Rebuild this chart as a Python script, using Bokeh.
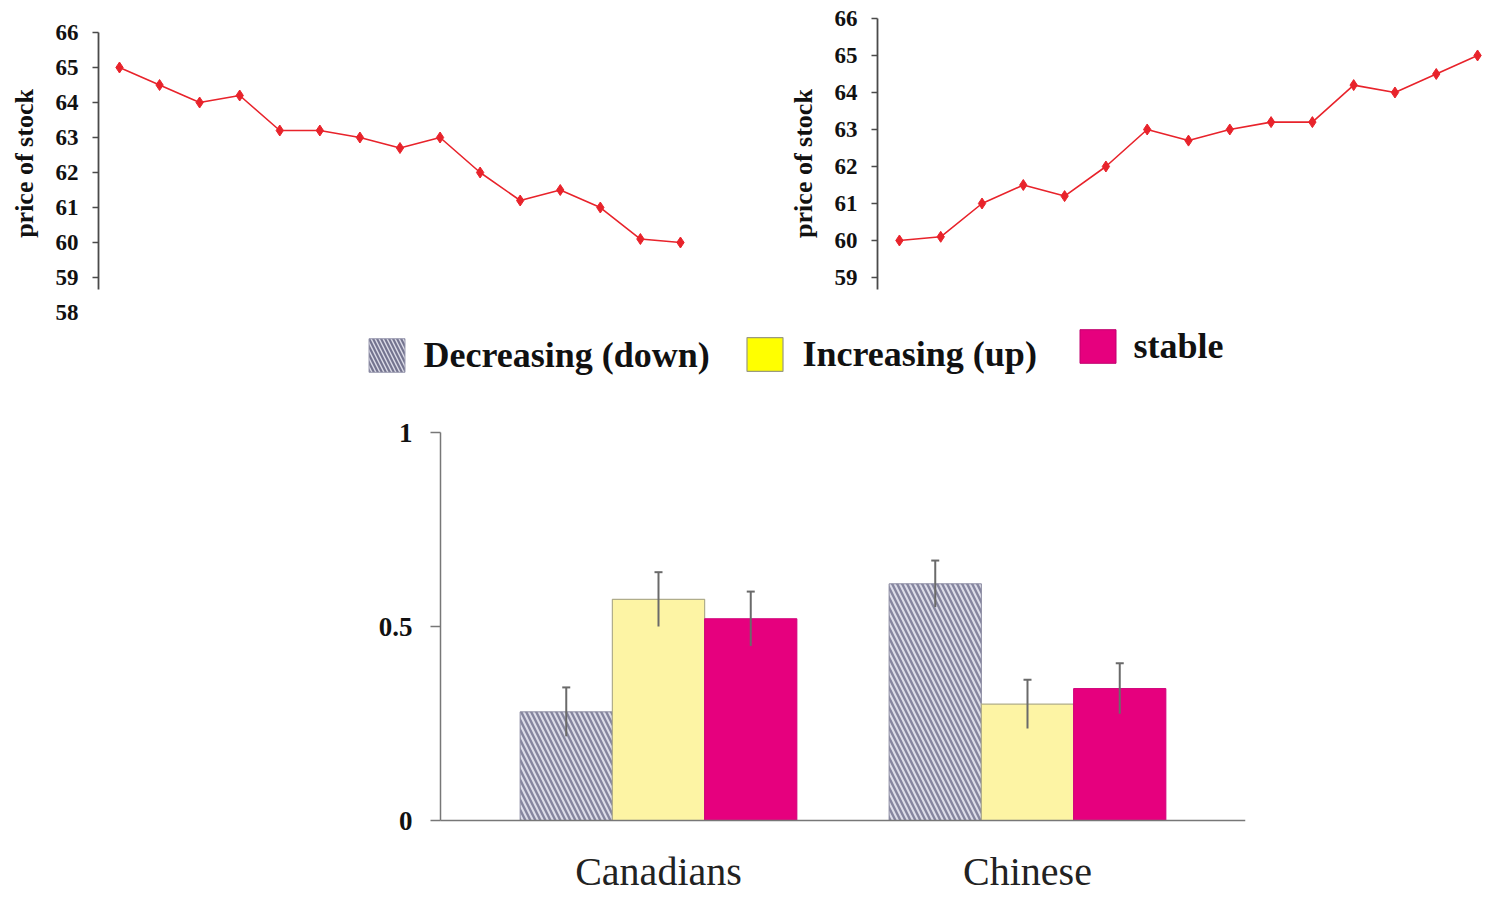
from bokeh.plotting import figure
from bokeh.models import (Range1d, FixedTicker, Legend, LegendItem, LinearAxis,
                          Whisker, TeeHead, ColumnDataSource)
from bokeh.layouts import row, column
from bokeh.embed import file_html
from bokeh.resources import INLINE

# ---------------- data ----------------
time_points = list(range(1, 16))
down_prices = [65, 64.5, 64, 64.2, 63.2, 63.2, 63, 62.7, 63, 62, 61.2, 61.5, 61, 60.1, 60]
up_prices = [60, 60.1, 61, 61.5, 61.2, 62, 63, 62.7, 63, 63.2, 63.2, 64.2, 64, 64.5, 65]
price_ticks = [59, 60, 61, 62, 63, 64, 65, 66]
price_labels_left = [58, 59, 60, 61, 62, 63, 64, 65, 66]

groups = ["Canadians", "Chinese"]
series = ["Decreasing (down)", "Increasing (up)", "stable"]
decreasing = [0.28, 0.61]
increasing = [0.57, 0.30]
stable = [0.52, 0.34]
err_decreasing = [0.063, 0.060]
err_increasing = [0.070, 0.063]
err_stable = [0.070, 0.065]
bar_ticks = [0, 0.5, 1]

SERIF = "Liberation Serif"
RED = "#e8232b"
AXIS = "#4a4a4a"
TXT = "#111111"


def style_label_axis(ax, standoff):
    ax.major_label_text_font = SERIF
    ax.major_label_text_font_style = "bold"
    ax.major_label_text_font_size = "23px"
    ax.major_label_text_color = TXT
    ax.major_label_standoff = standoff
    ax.axis_label = "price of stock"
    ax.axis_label_text_font = SERIF
    ax.axis_label_text_font_style = "bold"
    ax.axis_label_text_font_size = "26px"
    ax.axis_label_text_color = TXT
    ax.axis_label_standoff = 14


def style_line_axis(ax):
    ax.major_tick_out = 6
    ax.major_tick_in = 0
    ax.minor_tick_out = 0
    ax.minor_tick_in = 0
    ax.axis_line_color = AXIS
    ax.axis_line_width = 1.8
    ax.major_tick_line_color = AXIS
    ax.major_tick_line_width = 1.5


def line_fig(prices, width, mbl, mbr, xr, yr):
    p = figure(width=width, height=326, output_backend="svg", toolbar_location=None,
               x_range=Range1d(*xr), y_range=Range1d(*yr), x_axis_location=None,
               min_border_left=mbl, min_border_right=mbr, min_border_top=10,
               min_border_bottom=10)
    p.grid.visible = False
    p.outline_line_color = None
    p.line(time_points, prices, line_color=RED, line_width=1.6)
    p.scatter(time_points, prices, marker="diamond", size=11, fill_color=RED,
              line_color=RED)
    return p


# left: decreasing stock (axis line/ticks + a label-only axis carrying 58..66)
p1 = line_fig(down_prices, 740, 98, 40, (0.476, 15.5), (57.886, 66.629))
a1 = p1.yaxis[0]
a1.ticker = FixedTicker(ticks=price_ticks)
a1.bounds = (58.66, 66)
style_line_axis(a1)
a1.major_label_overrides = {t: "" for t in price_ticks}
a1.major_label_standoff = 0
b1 = LinearAxis(ticker=FixedTicker(ticks=price_labels_left))
b1.axis_line_color = None
b1.major_tick_line_color = None
b1.minor_tick_line_color = None
b1.major_tick_out = 0
b1.major_tick_in = 0
b1.minor_tick_out = 0
b1.minor_tick_in = 0
style_label_axis(b1, 14)
p1.add_layout(b1, "left")

# right: increasing stock
p2 = line_fig(up_prices, 748, 137, 0, (0.469, 15.265), (57.946, 66.216))
a2 = p2.yaxis[0]
a2.ticker = FixedTicker(ticks=price_ticks)
a2.bounds = (58.676, 66)
style_line_axis(a2)
style_label_axis(a2, 14)

# ---------------- bar chart ----------------
group_x = [i + 0.5 for i in range(len(groups))]
p3 = figure(width=1488, height=570, output_backend="svg", toolbar_location=None,
            x_range=Range1d(-0.3076, 2.0908), y_range=Range1d(-0.0335, 1.2732),
            y_axis_location=None,
            min_border_left=360, min_border_right=243, min_border_top=0,
            min_border_bottom=63)
p3.grid.visible = False
p3.outline_line_color = None

values = [decreasing, increasing, stable]
errors = [err_decreasing, err_increasing, err_stable]
offsets = [-0.25, 0.0, 0.25]
bar_styles = [
    dict(fill_color="#dcdce8", hatch_pattern="\\", hatch_color="#85859f",
         hatch_weight=2.4, hatch_scale=10, line_color="#8a8aa0", line_width=1),
    dict(fill_color="#fdf4a4", line_color="#b0ad8a", line_width=1.2),
    dict(fill_color="#e6007e", line_color="#d0007a", line_width=1),
]
legend_styles = [
    dict(fill_color="#dcdce8", hatch_pattern="\\", hatch_color="#74748f",
         hatch_weight=2.2, hatch_scale=8, line_color="#9a9ab0", line_width=1),
    dict(fill_color="#ffff00", line_color="#9a9a80", line_width=1.2),
    dict(fill_color="#e6007e", line_color="#c0006e", line_width=1),
]
legend_locs = [(3.5, 456.75), (381.5, 457.75), (714.5, 465.75)]
legend_standoffs = [15, 16, 14]

for vals, errs, off, bst, lst, name, loc, so in zip(values, errors, offsets, bar_styles,
                                                     legend_styles, series, legend_locs,
                                                     legend_standoffs):
    src = ColumnDataSource(dict(x=[g + off for g in group_x], top=vals,
                                upper=[v + e for v, e in zip(vals, errs)],
                                lower=[v - e for v, e in zip(vals, errs)]))
    p3.vbar(x="x", top="top", width=0.25, source=src, **bst)
    p3.add_layout(Whisker(base="x", upper="upper", lower="lower", source=src,
                          level="annotation",
                          line_color="#6a6a6a", line_width=2,
                          upper_head=TeeHead(size=8, line_color="#6a6a6a", line_width=2),
                          lower_head=None))
    dummy = p3.vbar(x="x", top="top", width=0.25, source=src, visible=False, **lst)
    leg = Legend(items=[LegendItem(label=name, renderers=[dummy])], location=loc,
                 orientation="horizontal", glyph_width=45, glyph_height=42,
                 label_height=42, label_standoff=so, label_text_font=SERIF,
                 label_text_font_style="bold", label_text_font_size="36px",
                 label_text_color=TXT, border_line_color=None,
                 background_fill_alpha=0, padding=0, margin=0,
                 inactive_fill_alpha=0, spacing=0)
    p3.add_layout(leg, "center")

# y axis drawn at x = left end of the category span
ya = LinearAxis(fixed_location=-0.0908, ticker=FixedTicker(ticks=bar_ticks),
                bounds=(0, 1))
ya.major_label_overrides = {0: "0", 0.5: "0.5", 1: "1"}
ya.major_label_text_font = SERIF
ya.major_label_text_font_style = "bold"
ya.major_label_text_font_size = "27px"
ya.major_label_text_color = TXT
ya.major_label_standoff = 18
ya.major_tick_out = 10
ya.major_tick_in = 0
ya.minor_tick_out = 0
ya.minor_tick_in = 0
ya.axis_line_color = "#777777"
ya.axis_line_width = 1.5
ya.major_tick_line_color = "#777777"
ya.major_tick_line_width = 1.5
p3.add_layout(ya, "left")

# category labels (at the frame bottom, no line)
xa = p3.xaxis[0]
xa.ticker = FixedTicker(ticks=group_x)
xa.major_label_overrides = {gx: g for gx, g in zip(group_x, groups)}
xa.axis_line_color = None
xa.major_tick_line_color = None
xa.minor_tick_line_color = None
xa.major_tick_out = 0
xa.major_tick_in = 0
xa.minor_tick_out = 0
xa.minor_tick_in = 0
xa.major_label_text_font = SERIF
xa.major_label_text_font_size = "40px"
xa.major_label_text_color = "#222222"
xa.major_label_standoff = 15

# baseline at y = 0
xb = LinearAxis(fixed_location=0, ticker=FixedTicker(ticks=[]),
                bounds=(-0.0908, 2.0908))
xb.axis_line_color = "#777777"
xb.axis_line_width = 1.5
xb.major_tick_out = 0
xb.major_tick_in = 0
xb.minor_tick_out = 0
xb.minor_tick_in = 0
xb.major_label_standoff = 0
p3.add_layout(xb, "below")

layout = column(row(p1, p2), p3)
open("out.html", "w").write(file_html(layout, INLINE))
